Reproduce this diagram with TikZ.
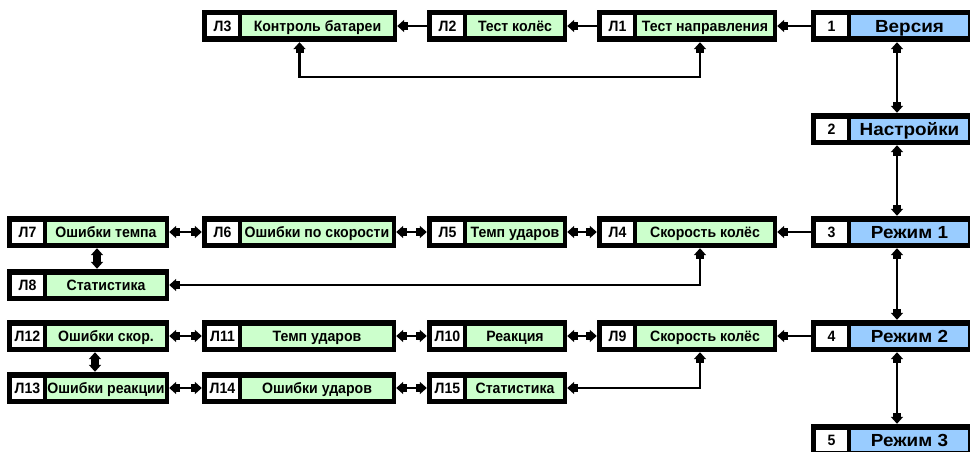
\documentclass[tikz,border=0pt]{standalone}
\usepackage{fontspec}
\setmainfont{Liberation Sans}
\newfontfamily\leaffont{Liberation Sans Bold}[FakeStretch=0.94]
\newfontfamily\headfont{Liberation Sans Bold}[FakeStretch=1.08]
\usetikzlibrary{arrows.meta}

\definecolor{cellgreen}{RGB}{204,255,204}
\definecolor{cellblue}{RGB}{153,204,255}

\tikzset{
  frame/.style={fill=black, inner sep=0pt, minimum height=32pt},
  numcell/.style={fill=white, inner sep=0pt, minimum width=31pt, minimum height=21pt,
    text height=10.7pt, text depth=0pt,
    anchor=west, font=\leaffont\fontsize{15}{15}\selectfont},
  leafcell/.style={fill=cellgreen, inner sep=0pt, minimum height=21pt,
    text height=10.7pt, text depth=0pt,
    font=\leaffont\fontsize{15}{15}\selectfont},
  headcell/.style={fill=cellblue, inner sep=0pt, minimum height=21pt,
    text height=12.5pt, text depth=0pt,
    font=\headfont\fontsize{17.5}{17.5}\selectfont},
  link/.style={line width=2.6pt},
  oneway/.style={-{Square[length=4pt,width=8pt,sep=0pt]Triangle[length=7pt,width=12pt]}},
  twoway/.style={{Triangle[length=7pt,width=12pt,sep=0pt]Square[length=4pt,width=8pt]}-{Square[length=4pt,width=8pt,sep=0pt]Triangle[length=7pt,width=12pt]}},
}

% #1 name, #2 left, #3 right, #4 y centre, #5 number, #6 caption, #7 caption style
\newcommand\tile[7]{%
  \node[frame, minimum width={(#3-#2)*1pt}] (#1) at ({(#2+#3)/2},#4) {};
  \node[numcell] (#1n) at ([xshift=5pt]#1.west) {#5};
  \node[#7, minimum width={(#3-#2-44)*1pt}, anchor=east] (#1t) at ([xshift=-4pt]#1.east) {#6};
}

\begin{document}
\begin{tikzpicture}[x=1pt, y=-1pt]
  \path[use as bounding box, clip] (0,0) rectangle (970,452);

  % main column
  \tile{V1}{811}{972}{26}{1}{Версия}{headcell}
  \tile{V2}{811}{972}{129}{2}{Настройки}{headcell}
  \tile{V3}{811}{972}{232}{3}{Режим 1}{headcell}
  \tile{V4}{811}{972}{336}{4}{Режим 2}{headcell}
  \tile{V5}{811}{972}{440}{5}{Режим 3}{headcell}

  % version tests
  \tile{L1}{597}{777}{26}{Л1}{Тест направления}{leafcell}
  \tile{L2}{427}{567}{26}{Л2}{Тест колёс}{leafcell}
  \tile{L3}{202}{397}{26}{Л3}{Контроль батареи}{leafcell}

  % mode 1
  \tile{L4}{597}{777}{232}{Л4}{Скорость колёс}{leafcell}
  \tile{L5}{427}{567}{232}{Л5}{Темп ударов}{leafcell}
  \tile{L6}{202}{396}{232}{Л6}{Ошибки по скорости}{leafcell}
  \tile{L7}{7}{169}{232}{Л7}{Ошибки темпа}{leafcell}
  \tile{L8}{7}{169}{285}{Л8}{Статистика}{leafcell}

  % mode 2
  \tile{L9}{597}{777}{336}{Л9}{Скорость колёс}{leafcell}
  \tile{L10}{427}{567}{336}{Л10}{Реакция}{leafcell}
  \tile{L11}{202}{396}{336}{Л11}{Темп ударов}{leafcell}
  \tile{L12}{7}{169}{336}{Л12}{Ошибки скор.}{leafcell}
  \tile{L13}{7}{169}{388}{Л13}{Ошибки реакции}{leafcell}
  \tile{L14}{202}{396}{388}{Л14}{Ошибки ударов}{leafcell}
  \tile{L15}{427}{567}{388}{Л15}{Статистика}{leafcell}

  % guide positions for the bent and vertical links
  \coordinate (spine) at (897,0);
  \coordinate (loop) at (700,77);
  \coordinate (tieA) at (97,0);
  \coordinate (tieB) at (95,0);

  % main column links
  \draw[link, twoway] (V1.south -| spine) -- (V2.north -| spine);
  \draw[link, twoway] (V2.south -| spine) -- (V3.north -| spine);
  \draw[link, twoway] (V3.south -| spine) -- (V4.north -| spine);
  \draw[link, twoway] (V4.south -| spine) -- (V5.north -| spine);

  % version row
  \draw[link, oneway] (V1.west) -- (L1.east);
  \draw[link, oneway] (L1.west) -- (L2.east);
  \draw[link, oneway] (L2.west) -- (L3.east);
  \draw[link, twoway] (L1.south -| loop) |- (L3.south |- loop) -- (L3.south);

  % mode 1 row
  \draw[link, oneway] (V3.west) -- (L4.east);
  \draw[link, twoway] (L4.west) -- (L5.east);
  \draw[link, twoway] (L5.west) -- (L6.east);
  \draw[link, twoway] (L6.west) -- (L7.east);
  \draw[link, twoway] (L7.south -| tieA) -- (L8.north -| tieA);
  \draw[link, twoway] (L4.south -| loop) |- (L8.east);

  % mode 2 rows
  \draw[link, oneway] (V4.west) -- (L9.east);
  \draw[link, twoway] (L9.west) -- (L10.east);
  \draw[link, twoway] (L10.west) -- (L11.east);
  \draw[link, twoway] (L11.west) -- (L12.east);
  \draw[link, twoway] (L12.south -| tieB) -- (L13.north -| tieB);
  \draw[link, twoway] (L13.east) -- (L14.west);
  \draw[link, twoway] (L14.east) -- (L15.west);
  \draw[link, twoway] (L15.east) -| (L9.south -| loop);
\end{tikzpicture}
\end{document}
